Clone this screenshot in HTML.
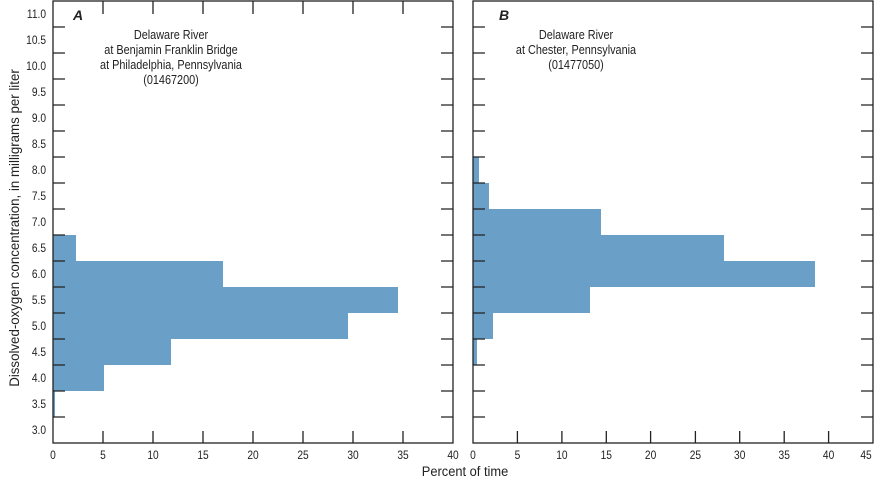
<!DOCTYPE html>
<html><head><meta charset="utf-8"><style>
html,body{margin:0;padding:0;background:#fff}
svg{display:block}
text{font-family:"Liberation Sans",sans-serif;fill:#222}
</style></head><body>
<svg width="879" height="480" viewBox="0 0 879 480" xmlns="http://www.w3.org/2000/svg">
<g fill="#6a9fc8">
<rect x="53" y="391" width="2" height="26"/>
<rect x="53" y="365" width="51" height="26"/>
<rect x="53" y="339" width="118" height="26"/>
<rect x="53" y="313" width="295" height="26"/>
<rect x="53" y="287" width="345" height="26"/>
<rect x="53" y="261" width="170" height="26"/>
<rect x="53" y="235" width="23" height="26"/>
<rect x="473" y="339" width="4" height="26"/>
<rect x="473" y="313" width="20" height="26"/>
<rect x="473" y="287" width="117" height="26"/>
<rect x="473" y="261" width="342" height="26"/>
<rect x="473" y="235" width="251" height="26"/>
<rect x="473" y="209" width="128" height="26"/>
<rect x="473" y="183" width="16" height="26"/>
<rect x="473" y="157" width="6" height="26"/>
</g>
<g stroke="#222" stroke-width="1.3" fill="none">
<rect x="53" y="1" width="400" height="442"/>
<rect x="473" y="1" width="400" height="442"/>
<path d="M53 417h12M53 391h12M53 365h12M53 339h12M53 313h12M53 287h12M53 261h12M53 235h12M53 209h12M53 183h12M53 157h12M53 131h12M53 105h12M53 79h12M53 53h12M53 27h12"/>
<path d="M441 417h12M441 391h12M441 365h12M441 339h12M441 313h12M441 287h12M441 261h12M441 235h12M441 209h12M441 183h12M441 157h12M441 131h12M441 105h12M441 79h12M441 53h12M441 27h12"/>
<path d="M473 417h12M473 391h12M473 365h12M473 339h12M473 313h12M473 287h12M473 261h12M473 235h12M473 209h12M473 183h12M473 157h12M473 131h12M473 105h12M473 79h12M473 53h12M473 27h12"/>
<path d="M861 417h12M861 391h12M861 365h12M861 339h12M861 313h12M861 287h12M861 261h12M861 235h12M861 209h12M861 183h12M861 157h12M861 131h12M861 105h12M861 79h12M861 53h12M861 27h12"/>
<path d="M103 431v12M153 431v12M203 431v12M253 431v12M303 431v12M353 431v12M403 431v12M103 1v13M153 1v13M203 1v13M253 1v13M303 1v13M353 1v13M403 1v13"/>
<path d="M517.4 431v12M561.9 431v12M606.3 431v12M650.6 431v12M695.4 431v12M739.7 431v12M784.2 431v12M828.6 431v12"/>
</g>
<g font-size="12" text-anchor="end">
<text transform="translate(46,434) scale(0.85,1)">3.0</text>
<text transform="translate(46,408) scale(0.85,1)">3.5</text>
<text transform="translate(46,382) scale(0.85,1)">4.0</text>
<text transform="translate(46,356) scale(0.85,1)">4.5</text>
<text transform="translate(46,330) scale(0.85,1)">5.0</text>
<text transform="translate(46,304) scale(0.85,1)">5.5</text>
<text transform="translate(46,278) scale(0.85,1)">6.0</text>
<text transform="translate(46,252) scale(0.85,1)">6.5</text>
<text transform="translate(46,226) scale(0.85,1)">7.0</text>
<text transform="translate(46,200) scale(0.85,1)">7.5</text>
<text transform="translate(46,174) scale(0.85,1)">8.0</text>
<text transform="translate(46,148) scale(0.85,1)">8.5</text>
<text transform="translate(46,122) scale(0.85,1)">9.0</text>
<text transform="translate(46,96) scale(0.85,1)">9.5</text>
<text transform="translate(46,70) scale(0.85,1)">10.0</text>
<text transform="translate(46,44) scale(0.85,1)">10.5</text>
<text transform="translate(46,18) scale(0.85,1)">11.0</text>
</g>
<g font-size="12" text-anchor="middle">
<text transform="translate(53,459) scale(0.85,1)">0</text>
<text transform="translate(103,459) scale(0.85,1)">5</text>
<text transform="translate(153,459) scale(0.85,1)">10</text>
<text transform="translate(203,459) scale(0.85,1)">15</text>
<text transform="translate(253,459) scale(0.85,1)">20</text>
<text transform="translate(303,459) scale(0.85,1)">25</text>
<text transform="translate(353,459) scale(0.85,1)">30</text>
<text transform="translate(403,459) scale(0.85,1)">35</text>
<text transform="translate(453,459) scale(0.85,1)">40</text>
<text transform="translate(473,459) scale(0.85,1)">0</text>
<text transform="translate(517.4,459) scale(0.85,1)">5</text>
<text transform="translate(561.9,459) scale(0.85,1)">10</text>
<text transform="translate(606.3,459) scale(0.85,1)">15</text>
<text transform="translate(650.6,459) scale(0.85,1)">20</text>
<text transform="translate(695.4,459) scale(0.85,1)">25</text>
<text transform="translate(739.7,459) scale(0.85,1)">30</text>
<text transform="translate(784.2,459) scale(0.85,1)">35</text>
<text transform="translate(828.6,459) scale(0.85,1)">40</text>
<text transform="translate(866,459) scale(0.85,1)">45</text>
</g>
<text x="73" y="20" font-size="14" font-weight="bold" font-style="italic">A</text>
<text x="499" y="20" font-size="14" font-weight="bold" font-style="italic">B</text>
<g font-size="12.5" text-anchor="middle">
<text transform="translate(171,39) scale(0.87,1)">Delaware River</text>
<text transform="translate(171,54) scale(0.87,1)">at Benjamin Franklin Bridge</text>
<text transform="translate(171,69) scale(0.87,1)">at Philadelphia, Pennsylvania</text>
<text transform="translate(171,84) scale(0.87,1)">(01467200)</text>
<text transform="translate(576,39) scale(0.87,1)">Delaware River</text>
<text transform="translate(576,54) scale(0.87,1)">at Chester, Pennsylvania</text>
<text transform="translate(576,69) scale(0.87,1)">(01477050)</text>
</g>
<text transform="translate(465,476) scale(0.92,1)" font-size="14" text-anchor="middle">Percent of time</text>
<text transform="translate(19,228) rotate(-90) scale(0.95,1)" font-size="14" text-anchor="middle">Dissolved-oxygen concentration, in milligrams per liter</text>
</svg>
</body></html>
